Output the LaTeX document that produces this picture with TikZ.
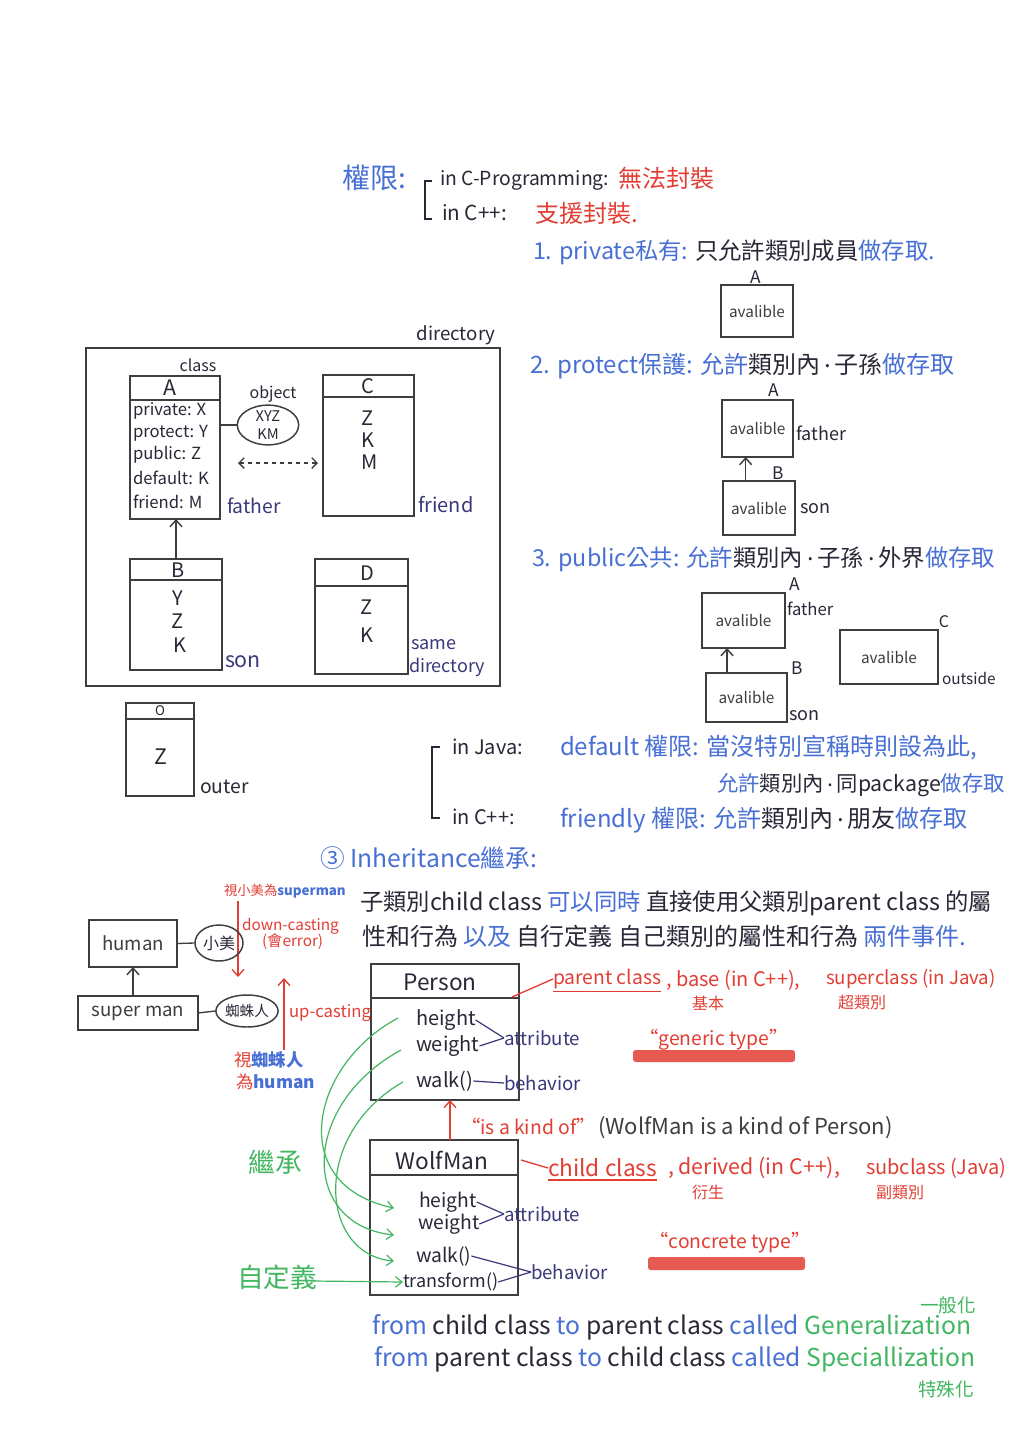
\documentclass[tikz,border=0pt]{standalone}
\usepackage{fontspec}
\setmainfont{Noto Sans CJK TC}
\usetikzlibrary{arrows.meta,shapes.geometric,fit,calc}
\definecolor{blueink}{RGB}{72,112,212}
\definecolor{navy}{RGB}{58,56,120}
\definecolor{ink}{RGB}{40,40,55}
\definecolor{pencil}{RGB}{62,62,62}
\definecolor{redink}{RGB}{226,62,52}
\definecolor{greenink}{RGB}{66,182,96}
\newcommand\sz[1]{\fontsize{#1}{#1}\selectfont}
\newcommand\inkB[1]{\textcolor{blueink}{#1}}
\newcommand\inkK[1]{\textcolor{ink}{#1}}
\newcommand\inkR[1]{\textcolor{redink}{#1}}
\newcommand\inkG[1]{\textcolor{greenink}{#1}}
\newcommand\inkN[1]{\textcolor{navy}{#1}}
\newcommand\mdot{\,\raisebox{0.25em}{.}\,}
\tikzset{
 txt/.style={inner sep=0pt, outer sep=0pt},
 pen/.style={draw=pencil, line width=1.2pt},
 boxr/.style={draw=pencil, line width=1.3pt, inner sep=0pt, outer sep=0pt, rectangle},
 arr/.style={draw=pencil, line width=1.1pt, -{Straight Barb[length=5pt,width=9pt]}},
 oval/.style={ellipse, draw=pencil, line width=1.1pt, inner sep=0pt},
 gline/.style={draw=greenink, line width=0.9pt, -{Straight Barb[length=5pt,width=8pt]}},
 rline/.style={draw=redink, line width=1pt},
 rarr/.style={draw=redink, line width=1pt, -{Straight Barb[length=5pt,width=9pt]}},
 nline/.style={draw=navy, line width=0.9pt},
 avl/.style={txt, text=pencil, font=\sz{11.5}},
}
\begin{document}
\begin{tikzpicture}[x=0.75pt,y=-0.75pt]
\fill[white] (0,0) rectangle (1024,1449);
\useasboundingbox (0,0) rectangle (1024,1449);

% ---------- header ----------
\node[txt, anchor=west, text=blueink, font=\sz{21}] (quan) at (342,178) {權限:};
\draw[pen, draw=ink] (432,181) -- (425,181) -- (425,219) -- (432,219);
\node[txt, anchor=west, text=ink, font=\sz{14.5}] (inC) at (440,180) {in C-Programming:};
\node[txt, anchor=west, text=redink, font=\sz{18}] (noenc) at (618,178) {無法封裝};
\node[txt, anchor=west, text=ink, font=\sz{15.5}] (inCpp) at (442,213) {in C++:};
\node[txt, anchor=west, text=redink, font=\sz{18}] (enc) at (535,213) {支援封裝.};

\node[txt, anchor=west, font=\sz{17.5}] (priv) at (533,252) {\inkB{1. private私有: }\inkK{只允許類別成員}\inkB{做存取.}};

% private box
\node[txt, text=ink, font=\sz{13}] (labA1) at (756,277) {A};
\node[boxr, fit={(721,285) (793,337)}] (bx1) {};
\node[avl] (av1) at (bx1.center) {avalible};

% protect
\node[txt, anchor=west, font=\sz{18}] (prot) at (530,366) {\inkB{2. protect保護: 允許}\inkK{類別內\mdot 子孫}\inkB{做存取}};
\node[txt, text=ink, font=\sz{13}] (labA2) at (774,390) {A};
\node[boxr, fit={(722,400) (793,457)}] (bx2) {};
\node[avl] (av2) at (bx2.center) {avalible};
\node[txt, anchor=west, text=ink, font=\sz{13.5}] (fa2) at (796,433) {father};
\node[txt, text=ink, font=\sz{13}] (labB2) at (778,473) {B};
\node[boxr, fit={(723,481) (795,535)}] (bx3) {};
\node[avl] (av3) at (bx3.center) {avalible};
\node[txt, anchor=west, text=ink, font=\sz{13.5}] (so2) at (800,509) {son};
\draw[arr] ([xshift=17pt]bx3.north west) -- ([xshift=17pt]bx3.north west |- bx2.south);

% public
\node[txt, anchor=west, font=\sz{17.5}] (pub) at (532,559) {\inkB{3. public公共: 允許}\inkK{類別內\mdot 子孫\mdot 外界}\inkB{做存取}};
\node[txt, text=ink, font=\sz{13}] (labA3) at (795,584) {A};
\node[txt, anchor=west, text=ink, font=\sz{12.5}] (fa3) at (787,609) {father};
\node[boxr, fit={(702,593) (785,648)}] (bx4) {};
\node[avl] (av4) at (bx4.center) {avalible};
\node[txt, text=ink, font=\sz{13}] (labB3) at (797,668) {B};
\node[boxr, fit={(706,673) (787,722)}] (bx5) {};
\node[avl] (av5) at (bx5.center) {avalible};
\node[txt, anchor=west, text=ink, font=\sz{13.5}] (so3) at (789,716) {son};
\draw[arr] ([xshift=15.75pt]bx5.north west) -- ([xshift=15.75pt]bx5.north west |- bx4.south);
\node[txt, text=ink, font=\sz{12}] (labC3) at (944,622) {C};
\node[boxr, fit={(840,630) (938,684)}] (bx6) {};
\node[avl] (av6) at (bx6.center) {avalible};
\node[txt, anchor=west, text=ink, font=\sz{11.5}] (outs) at (942,678) {outside};

% ---------- directory diagram ----------
\node[txt, text=ink, font=\sz{14}] (dirlab) at (456,335) {directory};
\node[boxr, fit={(86,348) (500,686)}] (dir) {};
\node[txt, text=ink, font=\sz{12}] (clslab) at (198,365) {class};

\node[boxr, fit={(130,376) (220,519)}] (clA) {};
\draw[pen] (130,400) -- (220,400);
\node[txt, text=ink, font=\sz{16}] (tA) at (170,388) {A};
\node[txt, anchor=west, text=ink, font=\sz{12.5}] (mA1) at (133,411) {private: X};
\node[txt, anchor=west, text=ink, font=\sz{12.5}] (mA2) at (133,433) {protect: Y};
\node[txt, anchor=west, text=ink, font=\sz{12.5}] (mA3) at (133,455) {public: Z};
\node[txt, anchor=west, text=ink, font=\sz{12.5}] (mA4) at (133,478) {default: K};
\node[txt, anchor=west, text=ink, font=\sz{12.5}] (mA5) at (133,502) {friend: M};
\node[txt, anchor=west, text=navy, font=\sz{14.5}] (faA) at (227,506) {father};

\node[txt, text=ink, font=\sz{12}] (objlab) at (273,394) {object};
\node[oval, minimum width=46pt, minimum height=29pt, align=center, text=ink, font=\sz{11}] (obj) at (268,425) {XYZ\\[2pt]KM};
\draw[pen, line width=1pt] (clA.east |- obj.west) -- (obj.west);
\coordinate (dl) at (238,463);
\coordinate (dr) at (318,463);
\draw[pen, line width=1pt, dashed, {Straight Barb[length=4pt,width=8pt]}-{Straight Barb[length=4pt,width=8pt]}] (dl) -- (dr);

\node[boxr, fit={(323,375) (414,516)}] (clC) {};
\draw[pen] (323,397) -- (414,397);
\node[txt, text=ink, font=\sz{15}] (tC) at (368,386) {C};
\node[txt, text=ink, font=\sz{15}] (cZ) at (368,418) {Z};
\node[txt, text=ink, font=\sz{15}] (cK) at (368,440) {K};
\node[txt, text=ink, font=\sz{15}] (cM) at (370,462) {M};
\node[txt, anchor=west, text=navy, font=\sz{15}] (frC) at (418,505) {friend};

\node[boxr, fit={(130,559) (222,670)}] (clB) {};
\draw[pen] (130,580) -- (222,580);
\node[txt, text=ink, font=\sz{15}] (tB) at (178,570) {B};
\node[txt, text=ink, font=\sz{15}] (bY) at (178,598) {Y};
\node[txt, text=ink, font=\sz{15}] (bZ) at (178,621) {Z};
\node[txt, text=ink, font=\sz{15}] (bK) at (180,645) {K};
\node[txt, anchor=west, text=navy, font=\sz{16}] (soB) at (225,662) {son};
\draw[arr] (clB.north) -- (clB.north |- clA.south);

\node[boxr, fit={(315,559) (408,674)}] (clD) {};
\draw[pen] (315,586) -- (408,586);
\node[txt, text=ink, font=\sz{15}] (tD) at (367,573) {D};
\node[txt, text=ink, font=\sz{15}] (dZ) at (367,607) {Z};
\node[txt, text=ink, font=\sz{15}] (dK) at (367,635) {K};
\node[txt, anchor=west, text=navy, font=\sz{13.5}] (same) at (411,645) {same};
\node[txt, anchor=west, text=navy, font=\sz{13.5}] (samedir) at (409,667) {directory};

\node[boxr, fit={(126,703) (194,796)}] (clO) {};
\draw[pen] (126,719) -- (194,719);
\node[txt, text=ink, font=\sz{10}] (tO) at (160,711) {O};
\node[txt, text=ink, font=\sz{16}] (oZ) at (161,757) {Z};
\node[txt, anchor=west, text=ink, font=\sz{14.5}] (outer) at (200,787) {outer};

% ---------- Java / C++ default ----------
\draw[pen, draw=ink] (440,747) -- (432,747) -- (432,818) -- (440,818);
\node[txt, anchor=west, text=ink, font=\sz{15}] (inJ) at (452,747) {in Java:};
\node[txt, anchor=west, font=\sz{18}] (defl) at (560,748) {\inkB{default 權限: 當沒特別宣稱時則設為此,}};
\node[txt, anchor=west, font=\sz{16}] (defl2) at (717,785) {\inkB{允許}\inkK{類別內\mdot 同package}\inkB{做存取}};
\node[txt, anchor=west, text=ink, font=\sz{15}] (inC2) at (452,817) {in C++:};
\node[txt, anchor=west, font=\sz{18}] (frl) at (560,820) {\inkB{friendly 權限: 允許}\inkK{類別內\mdot 朋友}\inkB{做存取}};

% ---------- Inheritance ----------
\node[txt, anchor=west, font=\sz{18.5}] (inh) at (320,858) {\inkB{③ Inheritance繼承:}};
\node[txt, anchor=west, font=\sz{17.5}] (inh1) at (360,903) {\inkK{子類別child class }\inkB{可以同時 }\inkK{直接使用父類別parent class 的屬}};
\node[txt, anchor=west, font=\sz{18}] (inh2) at (362,936) {\inkK{性和行為 }\inkB{以及 }\inkK{自行定義 自己類別的屬性和行為 }\inkB{兩件事件.}};

% casting
\node[txt, anchor=west, font=\sz{10}] (dcl) at (224,891) {\inkR{視小美為}\inkB{\bfseries superman}};
\coordinate (dcTop) at (238,901);
\coordinate (dcBot) at (238,977);
\draw[rarr] (dcTop) -- (dcBot);
\node[txt, anchor=west, text=redink, font=\sz{11.5}] (dc1) at (242,926) {down-casting};
\node[txt, anchor=west, text=redink, font=\sz{11.5}] (dc2) at (262,942) {(會error)};

\node[boxr, fit={(89,920) (177,967)}] (human) {};
\node[txt, text=pencil, font=\sz{14}] (humant) at (human.center) {human};
\node[oval, minimum width=36pt, minimum height=27pt, text=ink, font=\sz{12}] (xm) at (219,943) {小美};
\draw[pen, line width=1pt] (human.east) -- (xm.west);

\node[boxr, fit={(78,996) (198,1030)}] (sman) {};
\node[txt, text=pencil, font=\sz{14}] (smant) at (sman.center) {super man};
\draw[arr] (sman.north -| human.south) -- (human.south);
\node[oval, minimum width=42pt, minimum height=24pt, text=ink, font=\sz{11}] (spm) at (247,1011) {蜘蛛人};
\draw[pen, line width=1pt] (sman.east) -- (spm.west);

\coordinate (ucBot) at (284,1050);
\coordinate (ucTop) at (284,978);
\draw[rarr] (ucBot) -- (ucTop);
\node[txt, anchor=west, text=redink, font=\sz{12.5}] (uc) at (289,1013) {up-casting};
\node[txt, anchor=west, font=\sz{13}] (uc1) at (234,1060) {\inkR{視}\inkB{\bfseries 蜘蛛人}};
\node[txt, anchor=west, font=\sz{13}] (uc2) at (236,1082) {\inkR{為}\inkB{\bfseries human}};

% ---------- Person ----------
\node[boxr, fit={(371,964) (519,1100)}] (P) {};
\draw[pen] (371,998) -- (519,998);
\node[txt, text=ink, font=\sz{17}] (Pt) at (440,982) {Person};
\node[txt, anchor=west, text=ink, font=\sz{15}] (ph) at (416,1020) {height};
\node[txt, anchor=west, text=ink, font=\sz{15}] (pw) at (416,1046) {weight};
\node[txt, anchor=west, text=ink, font=\sz{15}] (pwk) at (416,1081) {walk()};
\node[txt, anchor=west, text=navy, font=\sz{14}] (pat) at (504,1038) {attribute};
\node[txt, anchor=west, text=navy, font=\sz{14}] (pbe) at (504,1083) {behavior};
\draw[nline] (ph.east) -- (pat.west);
\draw[nline] (pw.east) -- (pat.west);
\draw[nline] (pwk.east) -- (pbe.west);

\coordinate (pcs) at (512,997);
\node[txt, anchor=west, text=redink, font=\sz{14.5}] (pcl) at (553,979) {parent class};
\draw[rline] (pcs) -- (pcl.west);
\draw[rline] ([yshift=-2pt]pcl.south west) -- ([yshift=-2pt]pcl.south east);
\node[txt, anchor=west, text=redink, font=\sz{15}] (base) at (666,980) {, base (in C++),};
\node[txt, text=redink, font=\sz{12}] (basez) at (708,1003) {基本};
\node[txt, anchor=west, text=redink, font=\sz{14}] (supc) at (826,979) {superclass (in Java)};
\node[txt, text=redink, font=\sz{12}] (supz) at (862,1002) {超類別};
\node[txt, text=redink, font=\sz{14.5}] (gen) at (714,1040) {“generic type”};
\fill[redink, opacity=0.85, rounded corners=2pt] (633,1050) rectangle (795,1062);

% is a kind of
\node[txt, anchor=west, text=redink, font=\sz{14.5}] (kind) at (461,1126) {“is a kind of”};
\node[txt, anchor=west, text=pencil, font=\sz{16.5}] (kind2) at (598,1128) {(WolfMan is a kind of Person)};

% ---------- WolfMan ----------
\node[boxr, fit={(370,1140) (518,1295)}] (W) {};
\draw[pen] (370,1175) -- (518,1175);
\draw[rarr] ([xshift=60pt]W.north west) -- ([xshift=60pt]W.north west |- P.south);
\node[txt, text=ink, font=\sz{17}] (Wt) at (442,1160) {WolfMan};
\node[txt, anchor=west, text=ink, font=\sz{14.5}] (wh) at (419,1202) {height};
\node[txt, anchor=west, text=ink, font=\sz{14.5}] (ww) at (418,1224) {weight};
\node[txt, anchor=west, text=ink, font=\sz{14.5}] (wwk) at (416,1256) {walk()};
\node[txt, anchor=west, text=ink, font=\sz{13.5}] (wtr) at (403,1282) {transform()};
\node[txt, anchor=west, text=navy, font=\sz{14}] (wat) at (504,1214) {attribute};
\node[txt, anchor=west, text=navy, font=\sz{14}] (wbe) at (531,1272) {behavior};
\draw[nline] (wh.east) -- (wat.west);
\draw[nline] (ww.east) -- (wat.west);
\draw[nline] (wwk.east) -- (wbe.west);
\draw[nline] (wtr.east) -- (wbe.west);

\coordinate (ccs) at (521,1160);
\node[txt, anchor=west, text=redink, font=\sz{17}] (ccl) at (548,1168) {child class};
\draw[rline] (ccs) -- (ccl.west);
\draw[rline] ([yshift=-2pt]ccl.south west) -- ([yshift=-2pt]ccl.south east);
\node[txt, anchor=west, text=redink, font=\sz{16}] (der) at (668,1168) {, derived (in C++),};
\node[txt, text=redink, font=\sz{12}] (derz) at (708,1192) {衍生};
\node[txt, anchor=west, text=redink, font=\sz{15}] (subc) at (866,1168) {subclass (Java)};
\node[txt, text=redink, font=\sz{12}] (subz) at (900,1192) {副類別};
\node[txt, text=redink, font=\sz{14.5}] (conc) at (730,1243) {“concrete type”};
\fill[redink, opacity=0.85, rounded corners=2pt] (648,1257) rectangle (805,1270);

% green inheritance arrows
\node[txt, text=greenink, font=\sz{20}] (jc) at (275,1162) {繼承};
\node[txt, text=greenink, font=\sz{20}] (zdy) at (277,1277) {自定義};
\coordinate (g1s) at (398,1018);
\coordinate (g2s) at (401,1050);
\coordinate (g3s) at (403,1082);
\coordinate (g1e) at (394,1208);
\coordinate (g2e) at (394,1235);
\coordinate (g3e) at (394,1261);
\draw[gline] (g1s) .. controls (310,1065) and (285,1185) .. (g1e);
\draw[gline] (g2s) .. controls (300,1105) and (300,1225) .. (g2e);
\draw[gline] (g3s) .. controls (310,1135) and (320,1255) .. (g3e);
\coordinate (zdyS) at (313,1281);
\draw[gline] (zdyS) -- (wtr.west);

% ---------- bottom ----------
\node[txt, text=greenink, font=\sz{14}] (ybh) at (948,1305) {一般化};
\node[txt, anchor=west, font=\sz{18.5}] (gl) at (372,1327) {\inkB{from} \inkK{child class} \inkB{to} \inkK{parent class} \inkB{called} \inkG{Generalization}};
\node[txt, anchor=west, font=\sz{18.5}] (sl) at (374,1359) {\inkB{from} \inkK{parent class} \inkB{to} \inkK{child class} \inkB{called} \inkG{Speciallization}};
\node[txt, text=greenink, font=\sz{14}] (tsh) at (946,1389) {特殊化};
\end{tikzpicture}
\end{document}
